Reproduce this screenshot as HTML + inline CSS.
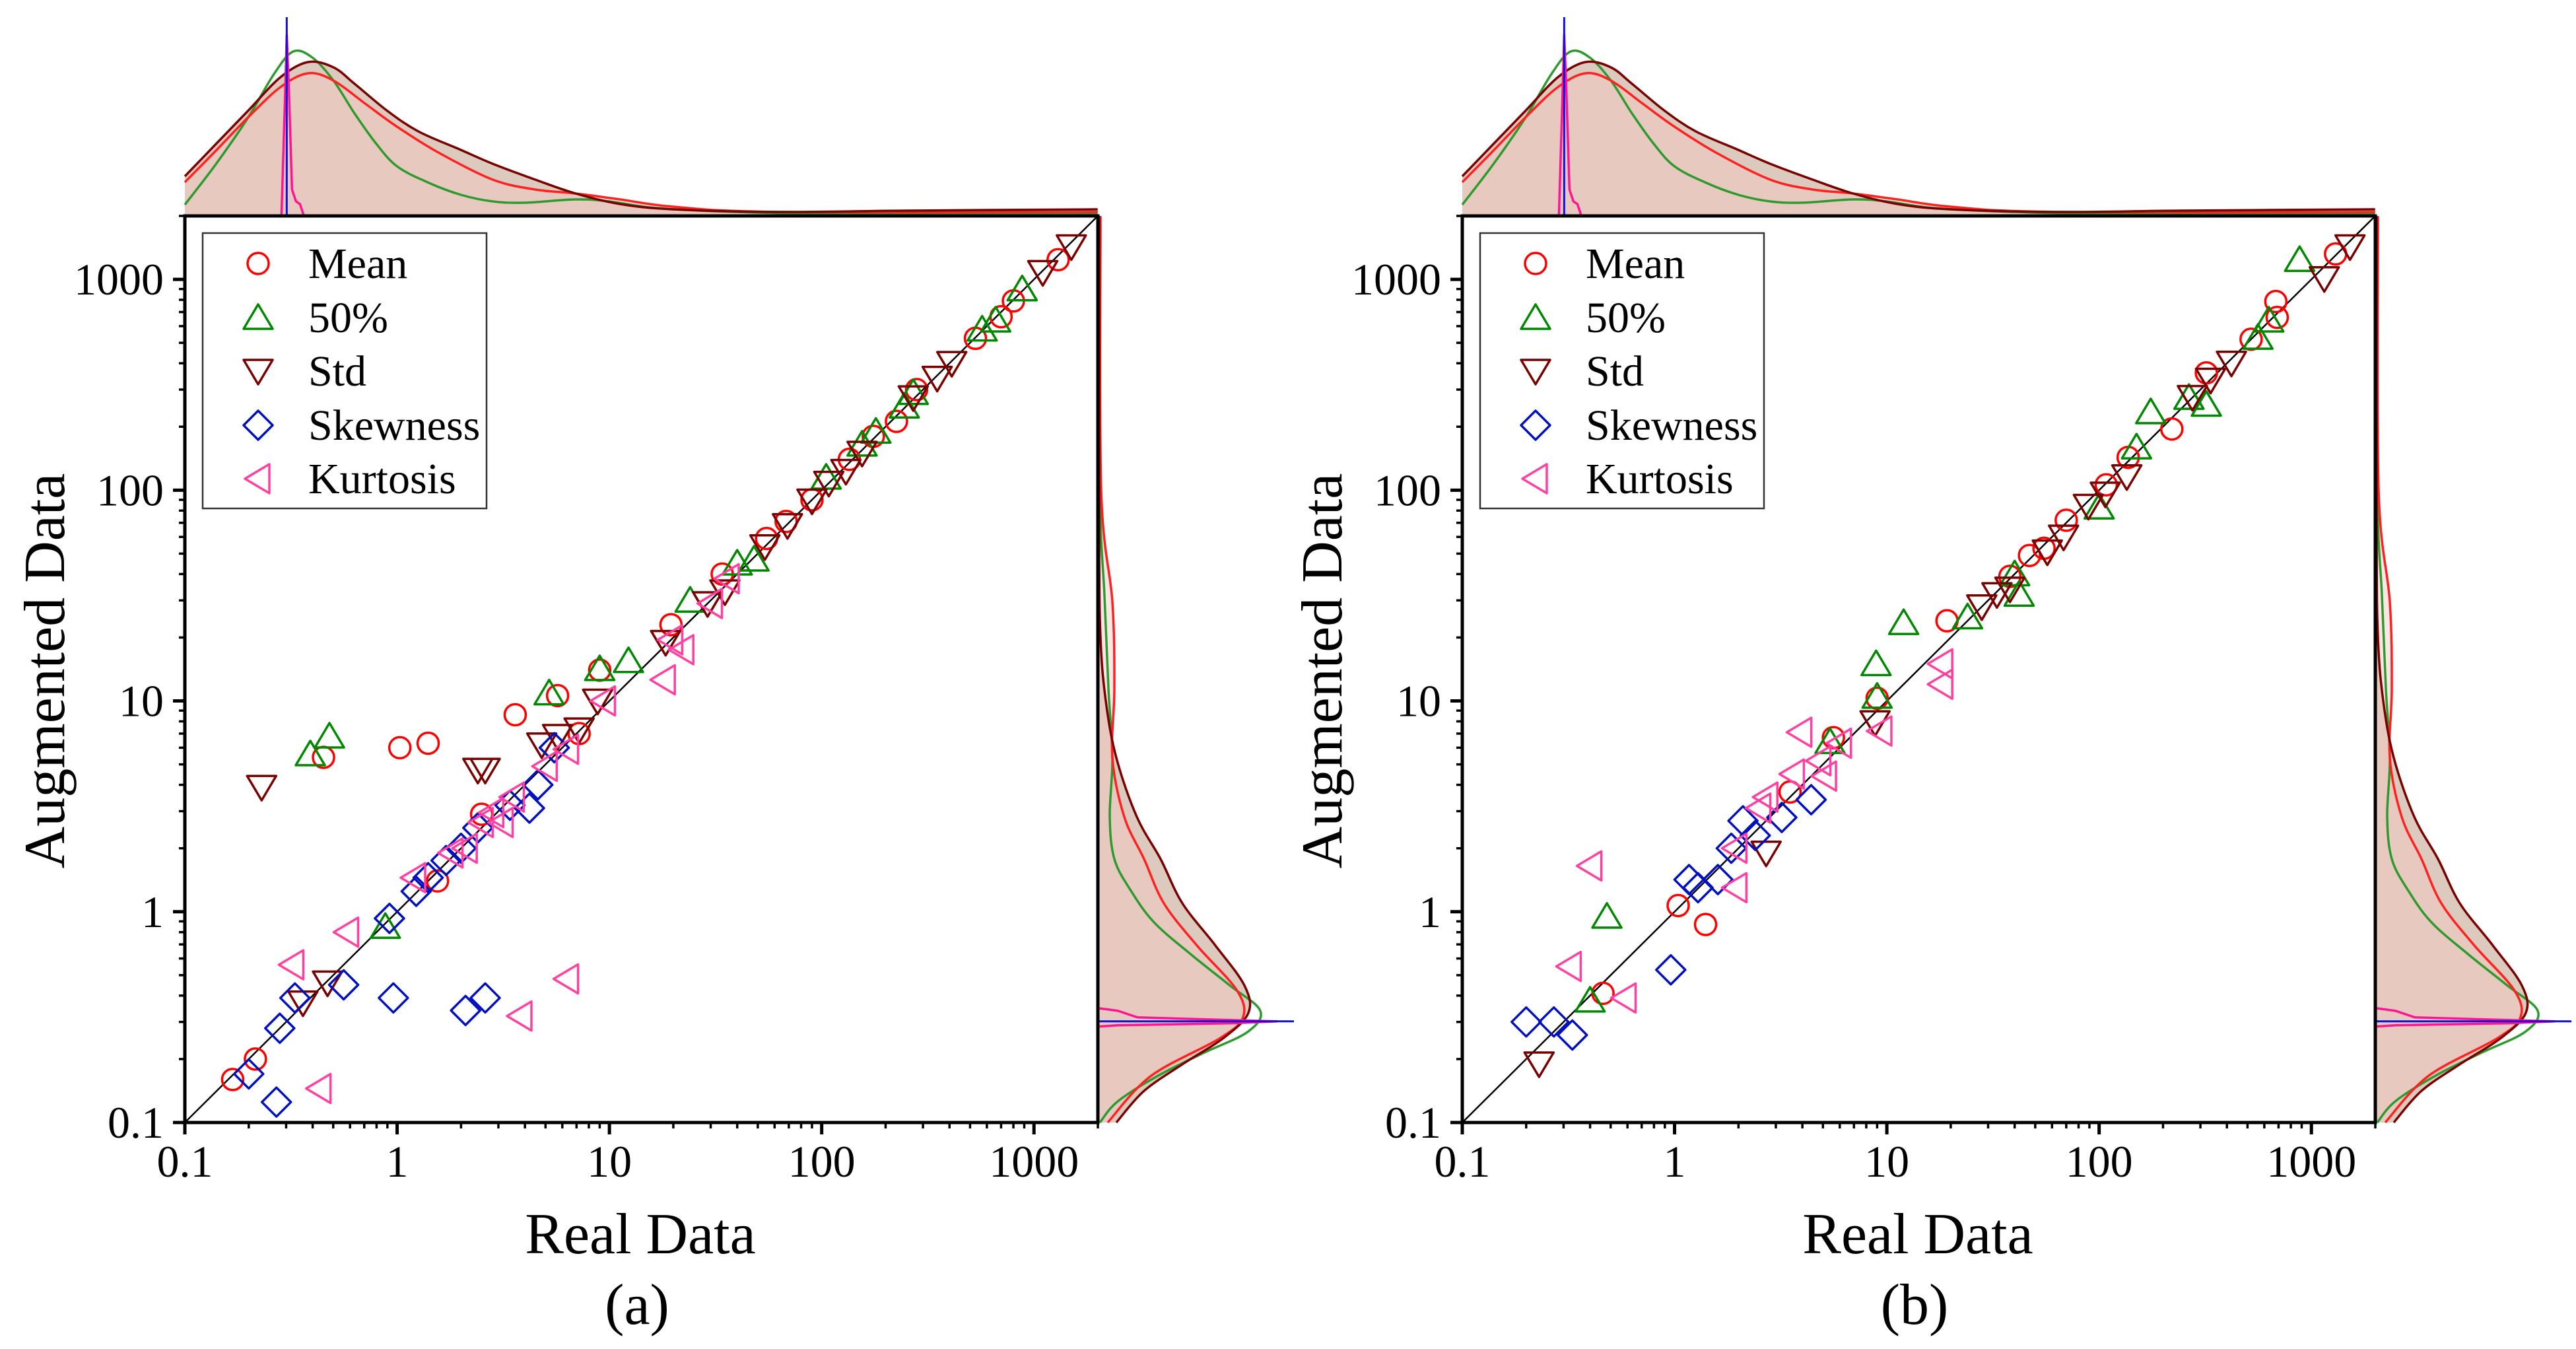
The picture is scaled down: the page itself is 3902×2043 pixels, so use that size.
<!DOCTYPE html>
<html><head><meta charset="utf-8"><style>
html,body{margin:0;padding:0;background:#fff;}
svg{display:block;}
text{font-family:"Liberation Serif","Times New Roman",Times,"DejaVu Serif",serif;}
</style></head><body>
<svg id="fig" width="3902" height="2043" viewBox="0 0 3902 2043" xmlns="http://www.w3.org/2000/svg"></svg>
<script>
// ---- data: panel (a) ----
const seriesNames = ["Mean","50%","Std","Skewness","Kurtosis"];
const aMeanX=[0.168,0.215,0.45,1.03,1.4,1.55,2.5,3.6,5.7,9.0,19.5,34,55,68,90,135,175,225,280,530,700,800,1300,7.2];
const aMeanY=[0.16,0.2,5.4,6.0,6.3,1.4,2.9,8.6,10.6,14,23,40,59,71,90,140,180,212,300,525,665,790,1240,7.0];
const aP50X=[0.39,0.48,0.88,5.2,9,12.3,24,40,48,105,155,180,245,270,570,660,880];
const aP50Y=[5.6,6.8,0.85,10.9,14.2,15.5,30,45,47,115,165,190,250,290,580,640,900];
const aStdX=[0.23,2.6,2.4,0.36,0.47,4.8,5.7,7.2,8.8,18.4,29,35,54,69,90,108,130,155,270,350,410,1100,1500];
const aStdY=[3.9,4.7,4.7,0.37,0.46,6.2,6.8,7.3,10,19,29,33,54,68,89,108,123,150,275,340,400,1080,1430];
const aSkewX=[0.2,0.27,0.28,0.33,0.56,0.92,0.96,2.1,2.6,1.23,1.4,1.7,2.0,2.4,3.4,4.2,4.6,5.5];
const aSkewY=[0.17,0.125,0.28,0.39,0.45,0.93,0.39,0.34,0.39,1.25,1.45,1.75,2.0,2.5,3.2,3.1,4.0,6.0];
const aKurtX=[0.43,0.32,0.58,3.8,6.3,1.2,1.8,2.1,2.5,2.8,3.1,3.5,5.0,6.3,9.4,18,22,19.5,30,36];
const aKurtY=[0.145,0.56,0.8,0.32,0.48,1.45,1.9,2.0,2.65,2.95,2.65,3.5,4.9,5.9,10,12.6,17.5,19.5,29,38];
// ---- data: panel (b) ----
const bMeanX=[0.46,1.04,1.4,3.5,5.6,9.0,19.2,38,47,55,70,108,137,220,320,520,680,690,1300];
const bMeanY=[0.41,1.07,0.87,3.7,6.7,10.3,24,39,49,53,72,106,143,195,360,520,785,660,1320];
const bP50X=[0.40,0.48,5.4,8.9,9,12,24,40,42,100,150,175,265,320,560,630,880];
const bP50Y=[0.38,0.95,6.4,15,10.5,23.5,25,40,32,83,160,235,275,255,530,640,1240];
const bStdX=[0.23,2.7,8.8,28,33,38,57,68,89,107,135,275,335,420,1150,1520];
const bStdY=[0.19,1.9,7.9,28,32,34,51,60,84,96,116,276,333,401,1010,1430];
const bSkewX=[0.20,0.27,0.33,0.96,1.17,1.29,1.6,1.85,2.1,2.4,3.2,4.4];
const bSkewY=[0.30,0.30,0.26,0.53,1.42,1.3,1.42,2.0,2.7,2.3,2.8,3.4];
const bKurtX=[0.40,0.32,0.58,1.93,1.93,2.5,2.7,3.6,3.9,4.8,5.1,6.0,9.3,18,18];
const bKurtY=[1.65,0.55,0.39,1.3,2.0,3.1,3.5,4.5,7.1,5.2,4.4,6.3,7.2,15,12];
// ---- marginal densities (log10 position, density height) ----
const topGreenLog=[-1,-0.85,-0.7,-0.58,-0.49,-0.4,-0.3,-0.2,-0.1,0,0.15,0.3,0.45,0.6,0.84,1.0,1.22,1.6,2,3.3];
const topGreen=[17,80,150,215,249,240,205,155,110,75,50,32,22,20,25,22,12,6,4,4];
const topBrownLog=[-1,-0.85,-0.7,-0.55,-0.42,-0.3,-0.2,-0.05,0.1,0.3,0.45,0.65,0.84,1.05,1.3,1.8,2.4,3.3];
const topBrown=[60,110,160,210,233,225,200,160,128,100,79,55,34,18,10,6,8,10];
const topRedLog=[-1,-0.85,-0.7,-0.55,-0.42,-0.3,-0.15,0,0.2,0.45,0.65,0.84,1.05,1.3,1.8,3.3];
const topRed=[51,100,150,195,216,205,170,135,95,55,40,34,25,14,6,6];
const rightGreenLog=[3.3,2.0,1.5,1.06,0.73,0.45,0.25,0.1,-0.05,-0.2,-0.35,-0.47,-0.57,-0.67,-0.78,-0.9,-1];
const rightGreen=[2,3,10,16,22,18,25,50,85,140,200,246,227,160,90,30,3];
const rightBrownLog=[3.3,1.8,1.3,1.0,0.73,0.45,0.25,0.04,-0.16,-0.35,-0.48,-0.6,-0.72,-0.85,-1];
const rightBrown=[2,2,4,12,28,59,95,128,178,222,228,190,130,70,28];
const rightRedLog=[3.3,2.0,1.47,1.06,0.73,0.45,0.25,0.04,-0.16,-0.37,-0.5,-0.6,-0.78,-1];
const rightRed=[4,5,22,25,22,40,70,100,150,210,220,185,80,15];
const spikeLog=-0.52;
const xTicks=[0.1,1,10,100,1000];
const yTicks=[0.1,1,10,100,1000];
const tickLabels=["0.1","1","10","100","1000"];

const NS="http://www.w3.org/2000/svg";
const svg=document.getElementById('fig');
function mk(tag,attrs,parent){const e=document.createElementNS(NS,tag);for(const k in attrs)e.setAttribute(k,attrs[k]);(parent||svg).appendChild(e);return e;}
const FONT="'Liberation Serif','Times New Roman',Times,'DejaVu Serif',serif";
const colors=["#ff0000","#008800","#7a0000","#0010c0","#ff40a0"];

function catmull(pts){
  let d="M"+pts[0][0].toFixed(1)+","+pts[0][1].toFixed(1);
  for(let i=0;i<pts.length-1;i++){
    const p0=pts[Math.max(0,i-1)],p1=pts[i],p2=pts[i+1],p3=pts[Math.min(pts.length-1,i+2)];
    const c1=[p1[0]+(p2[0]-p0[0])/6,p1[1]+(p2[1]-p0[1])/6];
    const c2=[p2[0]-(p3[0]-p1[0])/6,p2[1]-(p3[1]-p1[1])/6];
    d+=" C"+c1[0].toFixed(1)+","+c1[1].toFixed(1)+" "+c2[0].toFixed(1)+","+c2[1].toFixed(1)+" "+p2[0].toFixed(1)+","+p2[1].toFixed(1);
  }
  return d;
}

function marker(g,type,cx,cy,color){
  let e;
  if(type===0){e=mk('circle',{cx:cx,cy:cy,r:16,fill:'none',stroke:color,'stroke-width':3.5},g);}
  else{
    let p;
    if(type===1)p=[[cx,cy-20],[cx+22,cy+17],[cx-22,cy+17]];
    else if(type===2)p=[[cx-22,cy-17],[cx+22,cy-17],[cx,cy+20]];
    else if(type===3)p=[[cx,cy-22],[cx+22,cy],[cx,cy+22],[cx-22,cy]];
    else p=[[cx-20,cy],[cx+17,cy-22],[cx+17,cy+22]];
    e=mk('polygon',{points:p.map(q=>q.join(',')).join(' '),fill:'none',stroke:color,'stroke-width':3.5,'stroke-linejoin':'round'},g);
  }
  return e;
}

function txt(parent,attrs,content){
  const t=mk('text',attrs,parent);
  t.style.fontFamily=FONT;
  t.textContent=content;
  return t;
}

function panel(ox,label,data,id){
  const L=ox+280,R=ox+1663,T=327,B=1700;
  const lx=Math.log10(0.1),hx=Math.log10(2000);
  const X=v=>L+(Math.log10(v)-lx)/(hx-lx)*(R-L);
  const Y=v=>B-(Math.log10(v)-lx)/(hx-lx)*(B-T);
  const XL=l=>L+(l-lx)/(hx-lx)*(R-L);
  const YL=l=>B-(l-lx)/(hx-lx)*(B-T);
  const g=mk('g',{});
  
  

  const tg=mk('g',{},g);
  
  
  const topPts=(ls,arr)=>ls.map((l,i)=>[XL(l),T-arr[i]]);
  mk('path',{d:catmull(topPts(topBrownLog,topBrown))+` L${R},${T} L${L},${T} Z`,fill:'#dccabe',stroke:'none'},tg);
  mk('path',{d:catmull(topPts(topRedLog,topRed))+` L${R},${T} L${L},${T} Z`,fill:'rgba(245,200,195,0.45)',stroke:'none'},tg);
  [[topGreenLog,topGreen,'#2e9a2e'],[topRedLog,topRed,'#ff2020'],[topBrownLog,topBrown,'#7a0000']].forEach(([ls,a,c])=>{
    const p=mk('path',{d:catmull(topPts(ls,a)),fill:'none',stroke:c,'stroke-width':3.5},tg);
    
    
  });
  const sx=XL(spikeLog);
  mk('path',{d:`M${sx-8},${T} L${sx-2},${T-200} L${sx},${T-275} L${sx+3},${T-200} L${sx+8},${T-40} L${sx+14},${T-22} L${sx+20},${T-18} L${sx+26},${T}`,fill:'none',stroke:'#ff1493','stroke-width':3.5},tg);
  mk('line',{x1:sx,y1:T,x2:sx,y2:T-301,stroke:'#1010e0','stroke-width':3},tg);

  const rg=mk('g',{},g);
  
  
  const rPts=(ls,arr)=>ls.map((l,i)=>[R+arr[i],YL(l)]);
  mk('path',{d:catmull(rPts(rightBrownLog,rightBrown))+` L${R},${B} L${R},${T} Z`,fill:'#dccabe',stroke:'none'},rg);
  mk('path',{d:catmull(rPts(rightRedLog,rightRed))+` L${R},${B} L${R},${T} Z`,fill:'rgba(245,200,195,0.45)',stroke:'none'},rg);
  [[rightGreenLog,rightGreen,'#2e9a2e'],[rightRedLog,rightRed,'#ff2020'],[rightBrownLog,rightBrown,'#7a0000']].forEach(([ls,a,c])=>{
    const p=mk('path',{d:catmull(rPts(ls,a)),fill:'none',stroke:c,'stroke-width':3.5},rg);
    
    
  });
  const sy=YL(spikeLog);
  mk('path',{d:`M${R},${sy-20} L${R+30},${sy-16} L${R+60},${sy-6} L${R+200},${sy-2} L${R+272},${sy} L${R+200},${sy+3} L${R+30},${sy+6} L${R},${sy+8}`,fill:'none',stroke:'#ff1493','stroke-width':3.5},rg);
  mk('line',{x1:R,y1:sy,x2:R+297,y2:sy,stroke:'#1010e0','stroke-width':3},rg);

  mk('rect',{x:L,y:T,width:R-L,height:B-T,fill:'#fff'},g);

  const diag=mk('line',{x1:X(0.1),y1:Y(0.1),x2:X(2000),y2:Y(2000),stroke:'#000','stroke-width':2.5},g);
  
  

  data.forEach((s,si)=>{
    const sg=mk('g',{},g);
    
    
    s[0].forEach((xv,i)=>{
      const m=marker(sg,si,X(xv),Y(s[1][i]),colors[si]);
      
      
    });
  });

  const fr=mk('rect',{x:L,y:T,width:R-L,height:B-T,fill:'none',stroke:'#000','stroke-width':5},g);
  
  

  const ax=mk('g',{},g);
  
  
  for(let d=-1;d<=3;d++){
    for(let m=1;m<10;m++){
      const v=m*Math.pow(10,d);
      if(v>2000)break;
      const len=m===1?18:9;
      mk('line',{x1:X(v),y1:B,x2:X(v),y2:B+len,stroke:'#000','stroke-width':m===1?5:3.5},ax);
      mk('line',{x1:L,y1:Y(v),x2:L-len,y2:Y(v),stroke:'#000','stroke-width':m===1?5:3.5},ax);
    }
  }
  xTicks.forEach((v,i)=>{
    const t=txt(ax,{x:X(v),y:B+82,'font-size':68,'text-anchor':'middle'},tickLabels[i]);
    
    
  });
  yTicks.forEach((v,i)=>{
    const t=txt(ax,{x:L-32,y:Y(v)+23,'font-size':68,'text-anchor':'end'},tickLabels[i]);
    
    
  });
  const xt=txt(g,{x:ox+970,y:1898,'font-size':88,'text-anchor':'middle'},'Real Data');
  
  
  const yt=txt(g,{x:0,y:0,'font-size':88,'text-anchor':'middle',transform:`translate(${ox+97},1016) rotate(-90)`},'Augmented Data');
  
  
  const pl=txt(g,{x:ox+965,y:2005,'font-size':88,'text-anchor':'middle'},label);
  
  

  const lg=mk('g',{},g);
  
  
  mk('rect',{x:ox+307,y:353,width:430,height:417,fill:'#fff',stroke:'#333','stroke-width':2.5},lg);
  const rows=[399,481,562,644,725];
  seriesNames.forEach((n,i)=>{
    const eg=mk('g',{},lg);
    
    
    marker(eg,i,ox+391,rows[i],colors[i]);
    txt(eg,{x:ox+467,y:rows[i]+22,'font-size':66},n);
  });
}
panel(0,'(a)',[[aMeanX,aMeanY],[aP50X,aP50Y],[aStdX,aStdY],[aSkewX,aSkewY],[aKurtX,aKurtY]],'a');
panel(1935,'(b)',[[bMeanX,bMeanY],[bP50X,bP50Y],[bStdX,bStdY],[bSkewX,bSkewY],[bKurtX,bKurtY]],'b');
</script>
</body></html>
